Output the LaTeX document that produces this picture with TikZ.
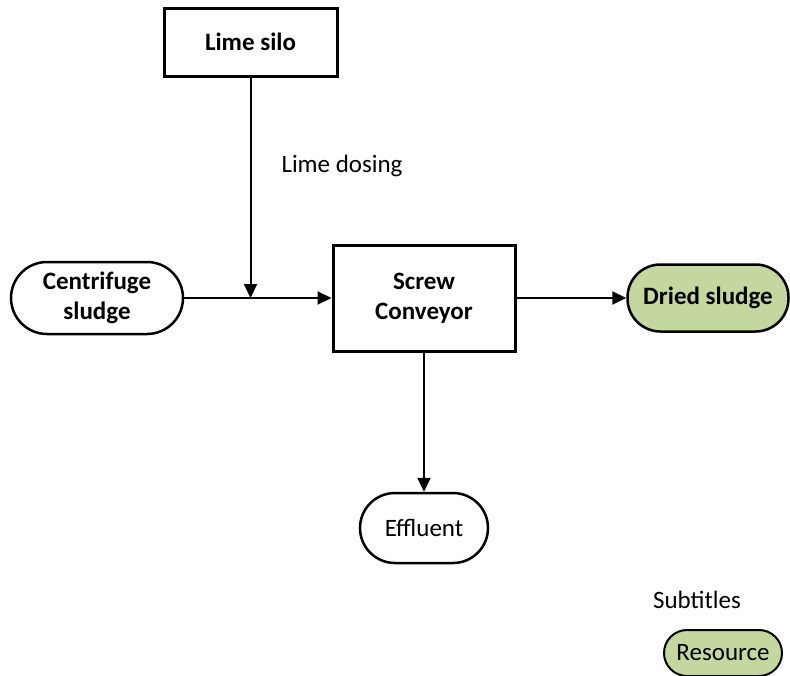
\documentclass[tikz,border=0pt]{standalone}
\usepackage{fontspec}
\setmainfont{Carlito}
\usetikzlibrary{arrows.meta}
\definecolor{resourcegreen}{RGB}{196,215,158}
\tikzset{
  every node/.style={font=\fontsize{25}{30}\selectfont, align=center, inner sep=0pt},
  unitbox/.style={draw, line width=3pt, font=\fontsize{25}{30}\selectfont\bfseries},
  terminal/.style={draw, line width=2.5pt, rounded corners=#1},
  flow/.style={draw, line width=2pt, -{Triangle[length=14pt,width=13pt]}},
}
\begin{document}
\begin{tikzpicture}[x=1pt,y=-1pt]
  \useasboundingbox (0,0) rectangle (790,675);
  % process units
  \node[unitbox, minimum width=173pt, minimum height=68pt] (silo) at (250.5,42) {Lime silo};
  \node[unitbox, minimum width=182pt, minimum height=106pt] (screw) at (424,298) {Screw\\Conveyor};
  % inputs and outputs
  \node[terminal=36pt, minimum width=172pt, minimum height=72pt, font=\fontsize{25}{30}\selectfont\bfseries] (centrifuge) at (97,298) {Centrifuge\\sludge};
  \node[terminal=33pt, fill=resourcegreen, minimum width=161pt, minimum height=67pt, font=\fontsize{25}{30}\selectfont\bfseries] (dried) at (708,298) {Dried sludge};
  \node[terminal=35pt, minimum width=128pt, minimum height=70pt] (effluent) at (424,528) {Effluent};
  % legend
  \node (subtitles) at (697,600) {Subtitles};
  \node[terminal=23pt, line width=2pt, fill=resourcegreen, minimum width=118pt, minimum height=46pt] (resource) at (723,653) {Resource};
  % connectors
  \coordinate (dose) at (silo.south |- centrifuge.east);
  \draw[flow] (silo.south) -- node[right, xshift=30pt, pos=0.4] {Lime dosing} (dose);
  \draw[flow] (centrifuge.east) -- (screw.west);
  \draw[flow] (screw.east) -- (dried.west);
  \draw[flow] (screw.south) -- (effluent.north);
\end{tikzpicture}
\end{document}
